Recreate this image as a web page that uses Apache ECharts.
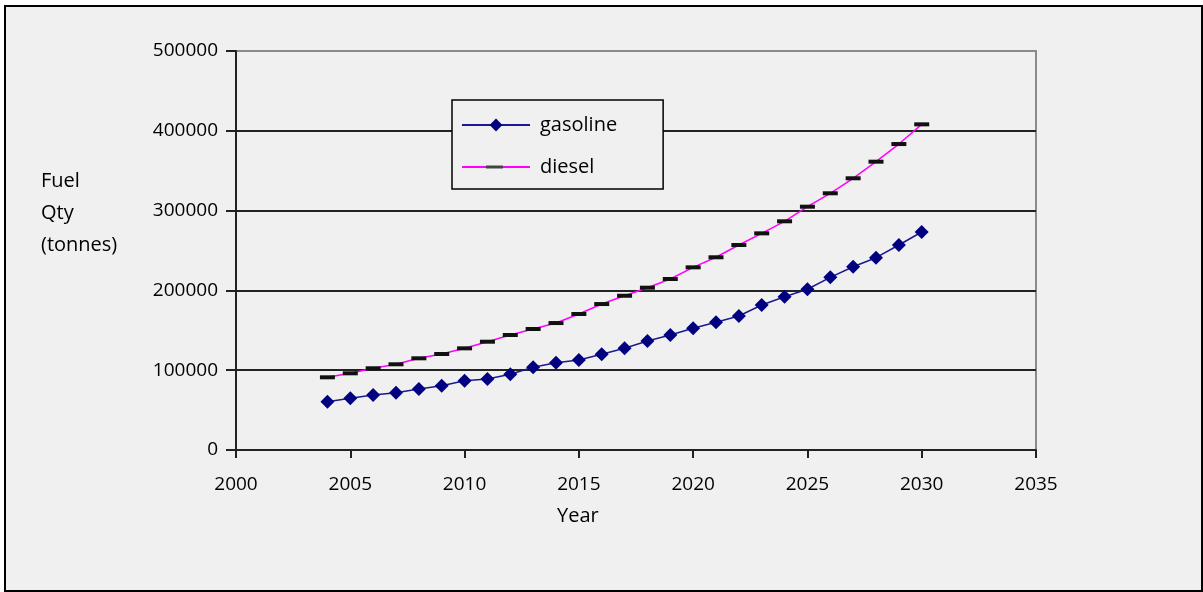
<!DOCTYPE html>
<html>
<head>
<meta charset="utf-8">
<script src="https://cdn.jsdelivr.net/npm/echarts@6/dist/echarts.min.js"></script>
<style>
  html, body { margin: 0; padding: 0; background: #ffffff; }
  #chart { width: 1203px; height: 592px; }
</style>
</head>
<body>
<div id="chart"></div>
<script>
// Projected fuel quantity (tonnes) by year
const years = [2004, 2005, 2006, 2007, 2008, 2009, 2010, 2011, 2012, 2013, 2014, 2015, 2016, 2017,
               2018, 2019, 2020, 2021, 2022, 2023, 2024, 2025, 2026, 2027, 2028, 2029, 2030];
const gasoline = [60500, 64800, 68900, 71800, 76400, 80600, 86800, 89000, 94900, 103600, 109400, 112800,
                  120000, 127400, 136600, 144100, 152500, 160000, 167900, 181700, 192100, 201400,
                  216400, 229700, 241000, 256900, 273200];
const diesel = [91100, 96100, 102400, 107400, 114900, 120300, 127400, 135700, 144100, 151600, 159100,
                170400, 182900, 193300, 203400, 214300, 228900, 241500, 256900, 271500, 286600,
                304900, 321700, 340500, 361300, 383400, 408100];
const seriesNames = ['gasoline', 'diesel'];
const xTitle = 'Year';
const yTitle = ['Fuel', 'Qty', '(tonnes)'];

const FONT = 'Open Sans';
const chart = echarts.init(document.getElementById('chart'), null, { renderer: 'canvas' });

const pairs = (vals) => years.map((y, i) => [y, vals[i]]);
const plain = (v) => String(v);

chart.setOption({
  animation: false,
  backgroundColor: '#ffffff',
  textStyle: { fontFamily: FONT, color: '#000' },
  graphic: [
    {
      type: 'rect', z: -10, silent: true,
      shape: { x: 5, y: 6, width: 1197, height: 585 },
      style: { fill: '#f0f0f0', stroke: '#000', lineWidth: 2 }
    },
    {
      type: 'text', left: 41, top: 165,
      style: { text: yTitle.join('\n'), font: '20px "Open Sans"', lineHeight: 32, fill: '#000' }
    },
    {
      type: 'text', left: 557, top: 506,
      style: { text: xTitle, font: '20px "Open Sans"', fill: '#000' }
    },
    {
      // dash marker shown in the middle of the diesel legend line
      type: 'rect', z: 100, silent: true,
      shape: { x: 486, y: 165.5, width: 17, height: 3 },
      style: { fill: '#444' }
    }
  ],
  grid: {
    left: 236, right: 167, top: 51, bottom: 142,
    show: true, borderColor: '#8a8a8a', borderWidth: 2, backgroundColor: 'transparent'
  },
  legend: {
    orient: 'vertical',
    left: 452, top: 100,
    padding: [15, 46, 12, 9],
    itemWidth: 68, itemHeight: 16, itemGap: 22,
    backgroundColor: '#f0f0f0',
    borderColor: '#000', borderWidth: 1.5,
    textStyle: { fontFamily: FONT, fontSize: 20, color: '#000', padding: [0, 0, 0, 5] },
    data: [seriesNames[0], { name: seriesNames[1], itemStyle: { color: 'transparent', borderWidth: 0 } }]
  },
  xAxis: {
    type: 'value', min: 2000, max: 2035, interval: 5,
    axisLine: { show: true, lineStyle: { color: '#222', width: 2 } },
    axisTick: { show: true, length: 8, lineStyle: { color: '#222', width: 2 } },
    axisLabel: { fontFamily: FONT, fontSize: 19, color: '#000', margin: 25, formatter: plain },
    splitLine: { show: false }
  },
  yAxis: {
    type: 'value', min: 0, max: 500000, interval: 100000,
    axisLine: { show: true, onZero: false, lineStyle: { color: '#222', width: 2 } },
    axisTick: { show: true, length: 10, lineStyle: { color: '#222', width: 2 } },
    axisLabel: { fontFamily: FONT, fontSize: 19, color: '#000', margin: 18, formatter: plain },
    splitLine: {
      show: true,
      lineStyle: { color: ['#222', '#222', '#222', '#222', '#222', '#8a8a8a'], width: 2 }
    }
  },
  series: [
    {
      name: seriesNames[0], type: 'line', data: pairs(gasoline),
      symbol: 'diamond', symbolSize: 14, showAllSymbol: true,
      itemStyle: { color: '#000080' },
      lineStyle: { color: '#1a1a90', width: 1.5 },
      z: 3
    },
    {
      name: seriesNames[1], type: 'line', data: pairs(diesel),
      symbol: 'rect', symbolSize: [15, 4], showAllSymbol: true,
      itemStyle: { color: '#111' },
      lineStyle: { color: '#ff00ff', width: 1.5 },
      z: 2
    }
  ]
});
</script>
</body>
</html>
